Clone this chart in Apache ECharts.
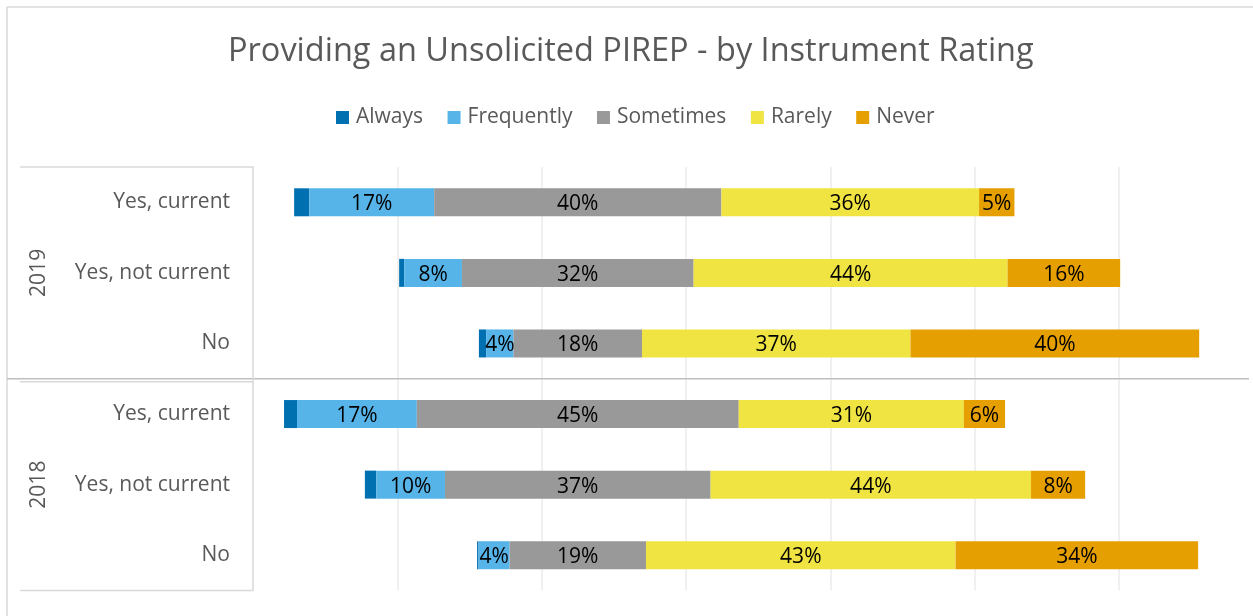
<!DOCTYPE html>
<html>
<head>
<meta charset="utf-8">
<script src="https://cdn.jsdelivr.net/npm/echarts@6/dist/echarts.min.js"></script>
<style>
html,body{margin:0;padding:0;background:#fff;}
#chart{width:1253px;height:616px;}
</style>
</head>
<body>
<div id="chart"></div>
<script>
// ---- data ----
const years = ["2019", "2018"];
const subCategories = ["Yes, current", "Yes, not current", "No"];
const categories = ["2019|Yes, current", "2019|Yes, not current", "2019|No",
                    "2018|Yes, current", "2018|Yes, not current", "2018|No"];
const seriesNames = ["Always", "Frequently", "Sometimes", "Rarely", "Never"];
const always     = [2.1, 0.7, 1.0, 1.8, 1.6, 0.2];
const frequently = [17.3, 8.0, 3.8, 16.6, 9.5, 4.3];
const sometimes  = [39.8, 32.1, 17.8, 44.6, 36.8, 18.9];
const rarely     = [35.7, 43.5, 37.2, 31.2, 44.4, 42.9];
const never      = [4.9, 15.6, 40.0, 5.7, 7.5, 33.6];
const colors = ["#0070b0", "#56b4e9", "#999999", "#f0e442", "#e69f00"];
const centerLine = 45; // bars are centred on the middle of "Sometimes"

// invisible offset so each bar is centred on the Sometimes midpoint
const offset = categories.map((c, i) => centerLine - (always[i] + frequently[i] + sometimes[i] / 2));

const FONT = "Open Sans";
const chart = echarts.init(document.getElementById('chart'));

const labelCfg = {
  show: true, position: 'inside', color: '#000', fontFamily: FONT, fontSize: 21, offset: [0, 2],
  formatter: p => Math.round(p.value) + '%'
};

const valueSeries = [always, frequently, sometimes, rarely, never].map((arr, k) => ({
  name: seriesNames[k], type: 'bar', stack: 'total', barWidth: 28,
  itemStyle: { color: colors[k] },
  label: k === 0 ? { show: false } : labelCfg,
  emphasis: { disabled: true },
  data: arr
}));

const option = {
  animation: false,
  title: {
    text: 'Providing an Unsolicited PIREP - by Instrument Rating',
    left: 228, top: 35, padding: 0,
    textStyle: { color: '#595959', fontFamily: FONT, fontSize: 32.5, fontWeight: 'normal' }
  },
  legend: {
    data: seriesNames, left: 336, top: 107, padding: 0,
    icon: 'rect', itemWidth: 13, itemHeight: 13, itemGap: 24.5,
    textStyle: { color: '#595959', fontFamily: FONT, fontSize: 21, padding: [0, 0, 0, 2] }
  },
  grid: { left: 253, right: 4, top: 167, bottom: 25.5, containLabel: false },
  xAxis: {
    type: 'value', min: 0, max: 138, interval: 20,
    axisLabel: { show: false }, axisLine: { show: false }, axisTick: { show: false },
    splitLine: { show: true, showMinLine: false, showMaxLine: false, lineStyle: { color: '#ebebeb', width: 1.5 } }
  },
  yAxis: {
    type: 'category', inverse: true, data: categories,
    axisLine: { show: true, lineStyle: { color: '#d9d9d9', width: 1.5 } },
    axisTick: { show: false },
    axisLabel: { margin: 23, color: '#595959', fontFamily: FONT, fontSize: 21, padding: [8, 0, 0, 0],
                 formatter: v => v.split('|')[1] }
  },
  series: [{
    name: 'offset', type: 'bar', stack: 'total', barWidth: 28, silent: true,
    itemStyle: { color: 'transparent' }, label: { show: false }, data: offset
  }].concat(valueSeries)
};
chart.setOption(option);

// decorations: multi-level category boxes, year labels, chart border
function drawDecor() {
  const y0 = chart.convertToPixel({ yAxisIndex: 0 }, 0);
  const band = chart.convertToPixel({ yAxisIndex: 0 }, 1) - y0;
  const yTop = y0 - band / 2;
  const yMid = yTop + 3 * band;
  const yBot = yTop + 6 * band;
  const xAxis0 = 253;
  const lineLight = { stroke: '#d9d9d9', lineWidth: 1.5 };
  const els = [
    { type: 'line', shape: { x1: 7, y1: 7, x2: 1253, y2: 7 }, style: lineLight },
    { type: 'line', shape: { x1: 7, y1: 7, x2: 7, y2: 616 }, style: lineLight },
    { type: 'line', shape: { x1: 20, y1: yTop, x2: xAxis0, y2: yTop }, style: lineLight },
    { type: 'line', shape: { x1: 20, y1: yMid + 3, x2: xAxis0, y2: yMid + 3 }, style: lineLight },
    { type: 'line', shape: { x1: 20, y1: yBot, x2: xAxis0, y2: yBot }, style: lineLight },
    { type: 'line', shape: { x1: 7, y1: yMid, x2: 1249, y2: yMid }, style: { stroke: '#bfbfbf', lineWidth: 1.5 } }
  ];
  years.forEach((yr, g) => {
    const cy = yTop + (g * 3 + 1.5) * band;
    els.push({
      type: 'text', x: 39, y: cy, rotation: Math.PI / 2,
      style: { text: yr, fill: '#595959', font: '21px "' + FONT + '"', align: 'center', verticalAlign: 'middle' }
    });
  });
  chart.setOption({ graphic: els });
}
drawDecor();
</script>
</body>
</html>
